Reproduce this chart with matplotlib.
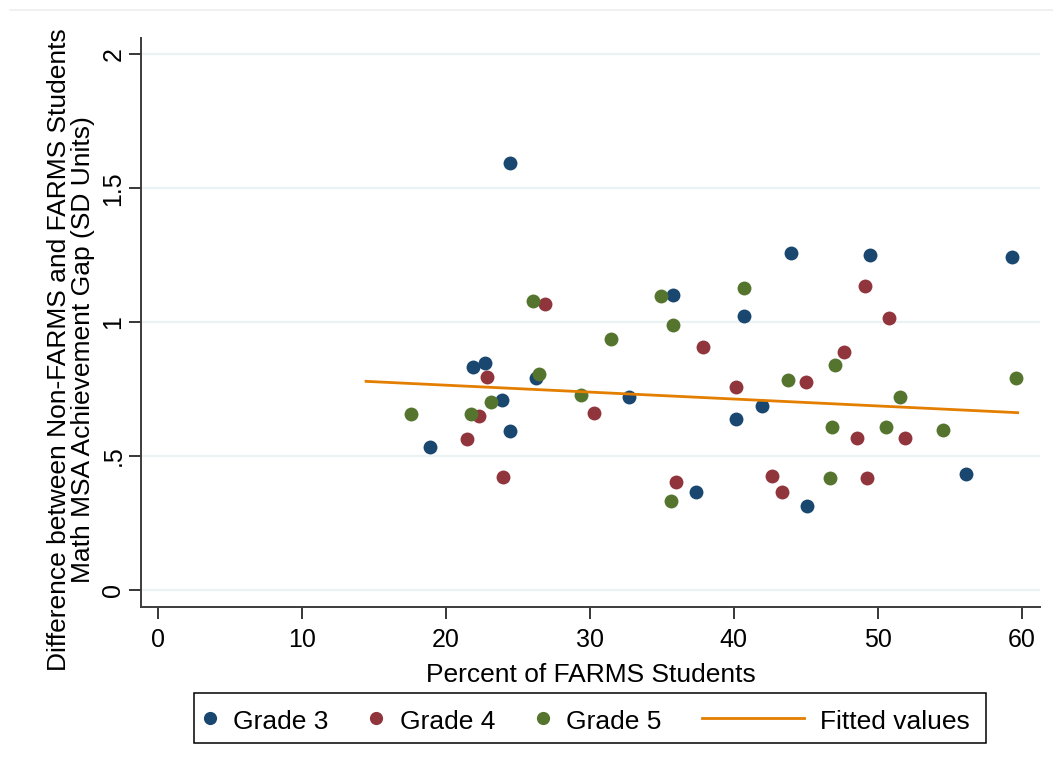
"""Math MSA achievement gap vs percent FARMS students, by grade."""

import matplotlib
matplotlib.use("Agg")
import matplotlib.pyplot as plt
from matplotlib.lines import Line2D
from matplotlib.patches import Rectangle


# ---------------------------------------------------------------------
# Data
# ---------------------------------------------------------------------
grade3_x = [18.93, 21.90, 22.73, 23.93, 24.47, 24.47, 26.29, 32.71, 35.81,
            37.36, 40.16, 40.72, 41.99, 44.00, 45.07, 49.49, 56.13, 59.31]
grade3_y = [0.534, 0.834, 0.846, 0.709, 0.595, 1.594, 0.793, 0.722, 1.103,
            0.367, 0.637, 1.023, 0.686, 1.260, 0.313, 1.250, 0.434, 1.245]

grade4_x = [21.46, 22.33, 22.87, 23.96, 26.92, 30.28, 36.01, 37.87, 40.16,
            42.68, 43.38, 45.02, 47.68, 48.58, 49.14, 49.28, 50.78, 51.88]
grade4_y = [0.562, 0.651, 0.795, 0.422, 1.069, 0.661, 0.404, 0.907, 0.757,
            0.426, 0.367, 0.778, 0.888, 0.566, 1.134, 0.417, 1.014, 0.566]

grade5_x = [17.57, 21.74, 23.17, 26.08, 26.48, 29.38, 31.48, 34.95, 35.63,
            35.76, 40.72, 43.75, 46.69, 46.81, 47.03, 50.56, 51.55, 54.53,
            59.63]
grade5_y = [0.658, 0.657, 0.702, 1.079, 0.805, 0.727, 0.936, 1.098, 0.332,
            0.988, 1.129, 0.785, 0.419, 0.610, 0.840, 0.608, 0.719, 0.596,
            0.793]

fit_x = [14.47, 59.72]
fit_y = [0.779, 0.662]

x_ticks = [0, 10, 20, 30, 40, 50, 60]
y_ticks = [0, 0.5, 1, 1.5, 2]
y_tick_labels = ["0", ".5", "1", "1.5", "2"]

series_labels = ["Grade 3", "Grade 4", "Grade 5", "Fitted values"]

# Stata s2color
NAVY = "#1a476f"
MAROON = "#90353b"
FOREST = "#55752f"
DKORANGE = "#e37e00"
GRID = "#eaf2f3"

plt.rcParams.update(
    {
        "font.family": ["Liberation Sans", "DejaVu Sans"],
        "font.size": 18,
    }
)

W, H = 1053, 774


def fx(px):
    return px / W


def fy(py):
    return 1 - py / H


# ---------------------------------------------------------------------
# Figure
# ---------------------------------------------------------------------
fig = plt.figure(figsize=(W / 100, H / 100), dpi=100)
fig.patch.set_facecolor("white")

left, right, top, bottom = 141, 1040, 37.7, 606.5
ax = fig.add_axes([fx(left), fy(bottom), fx(right) - fx(left),
                   fy(top) - fy(bottom)])

ax.set_xlim(-1.16, 61.27)
ax.set_ylim(-0.062, 2.0626)

ax.set_axisbelow(True)
ax.set_yticks(y_ticks, y_tick_labels, rotation=90, va="center")
ax.set_xticks(x_ticks)
ax.grid(axis="y", color=GRID, linewidth=1.6)
ax.grid(axis="x", visible=False)

msize = 100
ax.scatter(grade3_x, grade3_y, s=msize, color=NAVY, linewidths=0, zorder=3)
ax.scatter(grade4_x, grade4_y, s=msize, color=MAROON, linewidths=0, zorder=3)
ax.scatter(grade5_x, grade5_y, s=msize, color=FOREST, linewidths=0, zorder=3)
ax.plot(fit_x, fit_y, color=DKORANGE, linewidth=2.0, zorder=4)

for side in ("top", "right"):
    ax.spines[side].set_visible(False)
for side in ("left", "bottom"):
    ax.spines[side].set_color("#3c3c3c")
    ax.spines[side].set_linewidth(1.4)

ax.tick_params(axis="both", direction="out", length=8.3, width=1.1,
               color="black", labelsize=18)
ax.tick_params(axis="x", pad=7.5)
ax.tick_params(axis="y", pad=3.0)

ax.set_xlabel("Percent of FARMS Students", fontsize=19)
ax.xaxis.set_label_coords(0.5, (bottom - 675) / (bottom - top))
ax.xaxis.label.set_va("center")

ax.set_ylabel("Difference between Non-FARMS and FARMS Students\n"
              "Math MSA Achievement Gap (SD Units)",
              fontsize=19, linespacing=1.0)
ax.yaxis.set_label_coords((71 - left) / (right - left),
                          (bottom - 350) / (bottom - top))
ax.yaxis.label.set_va("center")
ax.yaxis.label.set_ha("center")

# faint outer region line at top
fig.add_artist(Line2D([fx(10), 1], [fy(10), fy(10)], color="#eeeeee",
                      linewidth=1.2))

# ---------------------------------------------------------------------
# Legend (Stata style, drawn by hand)
# ---------------------------------------------------------------------
fig.add_artist(Rectangle((fx(194), fy(743)), fx(986) - fx(194),
                         fy(693) - fy(743), transform=fig.transFigure,
                         facecolor="white", edgecolor="black",
                         linewidth=1.1))

key_y = 717.7
text_base = 729.3
marker_keys = [(209.7, NAVY), (375.9, MAROON), (542.6, FOREST)]
text_x = [233.2, 400.4, 566.1, 820.0]

for (kx, col) in marker_keys:
    fig.add_artist(Line2D([fx(kx)], [fy(key_y)], marker="o", markersize=9.5,
                          color=col, markeredgewidth=0, linestyle="none"))
fig.add_artist(Line2D([fx(702), fx(804.4)], [fy(key_y), fy(key_y)],
                      color=DKORANGE, linewidth=2.0))

for tx, label in zip(text_x, series_labels):
    fig.text(fx(tx), fy(text_base), label, fontsize=19, ha="left",
             va="baseline")

fig.savefig("out.png", dpi=100, facecolor="white")
plt.close(fig)
